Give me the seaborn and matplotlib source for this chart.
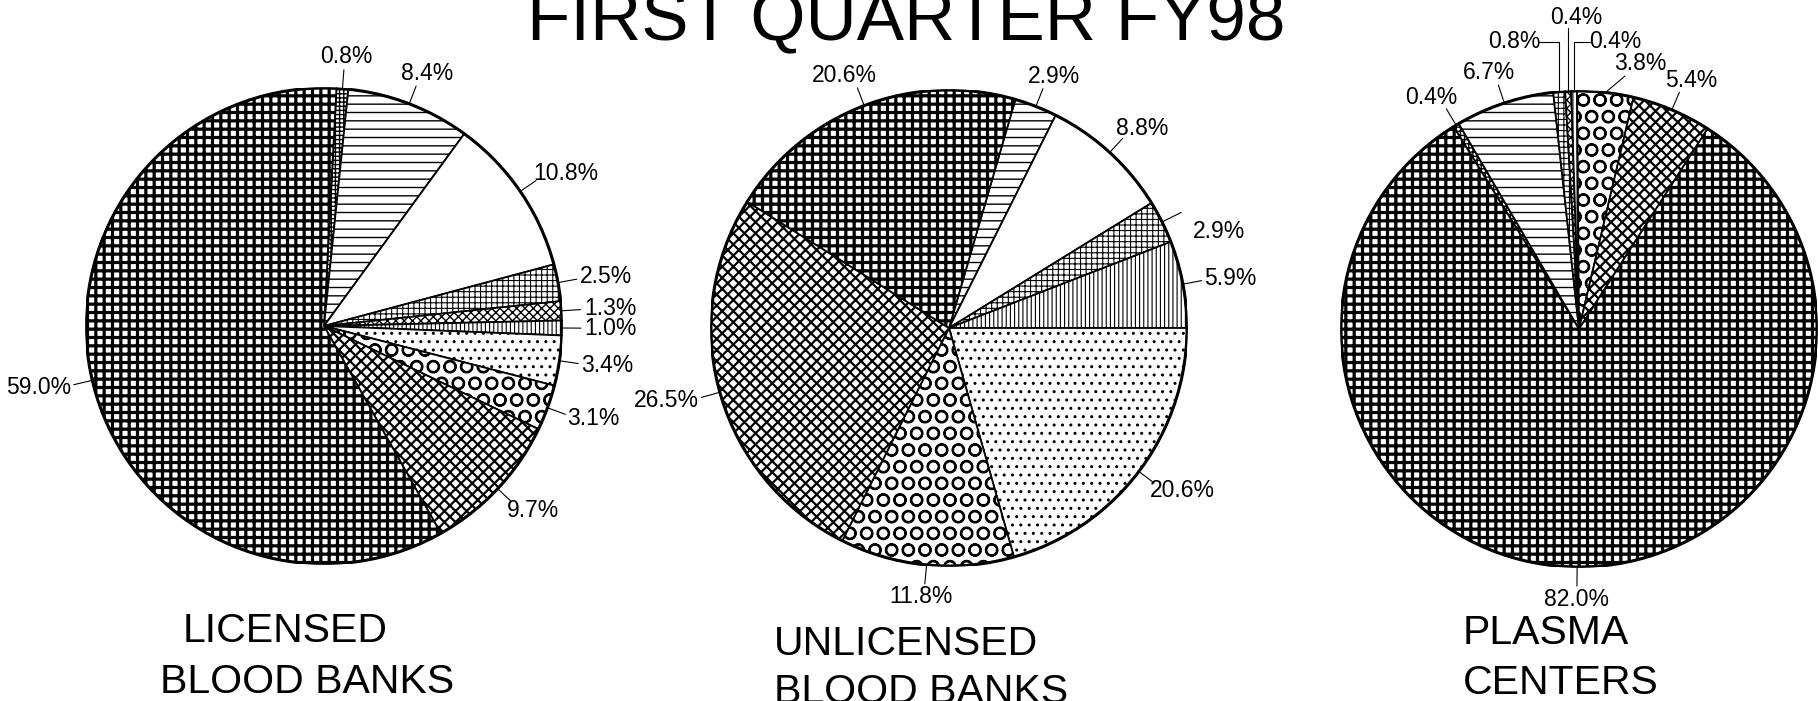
import numpy as np
import seaborn as sns
import matplotlib.pyplot as plt
from matplotlib.patches import Circle

# data
categories = ["dotted squares", "horizontal", "white", "grid", "checker",
              "vertical", "dots", "circles", "waves", "triangles"]
licensed = [0.8, 8.4, 10.8, 2.5, 1.3, 1.0, 3.4, 3.1, 9.7, 59.0]
unlicensed = [0.0, 2.9, 8.8, 2.9, 0.0, 5.9, 20.6, 11.8, 26.5, 20.6]
plasma = [0.4, 6.7, 0.0, 0.8, 0.4, 0.4, 0.0, 3.8, 5.4, 82.0]
pie_names = [["LICENSED", "BLOOD BANKS"],
             ["UNLICENSED", "BLOOD BANKS"],
             ["PLASMA", "CENTERS"]]
chart_title = "FIRST QUARTER FY98"

# style / layout
W, H = 1818, 701
R = 238
# hatch pattern and hatch line width per category
hatches = {"dotted squares": ("++++", 1.0), "horizontal": ("--", 1.0),
           "white": ("", 1.0), "grid": ("+++", 0.8),
           "checker": ("xxxx", 1.0), "vertical": ("||||", 0.8),
           "dots": ("..", 1.0), "circles": ("O", 1.5),
           "waves": ("xxx", 1.6), "triangles": ("++", 2.3)}
centers = [(324, 326), (949, 328), (1579, 329)]
start_cw = [3.0, 16.2, 328.2]          # clockwise degrees from 12 o'clock
name_pos = [[(183, 642), (160, 693)],
            [(774, 655), (774, 703)],
            [(1463, 644), (1463, 694)]]
# hand placed labels: (pie, category) -> text centre px, leader points px
label_fix = {
    (1, "grid"): ((1219, 232), []),
    (2, "grid"): ((1514, 42), [("v", 42), (1539, 42)]),
    (2, "checker"): ((1576, 17), [("v", 28)]),
    (2, "vertical"): ((1615, 42), [("v", 42), (1590, 42)]),
    (2, "circles"): ((1640, 63), [(1625, 76)]),
}

sns.set_theme(style="white")
plt.rcParams["font.family"] = ["Liberation Sans", "DejaVu Sans"]
plt.rcParams["text.color"] = "black"
plt.rcParams["hatch.color"] = "black"

fig = plt.figure(figsize=(W / 100, H / 100), dpi=100, facecolor="white")


def draw_pie(i, values):
    cx, cy = centers[i]
    ax = fig.add_axes([(cx - R) / W, 1 - (cy + R) / H, 2 * R / W, 2 * R / H])
    cats = [c for c, v in zip(categories, values) if v > 0]
    vals = [v for v in values if v > 0]
    wedges, _ = ax.pie(vals, startangle=90 - start_cw[i], counterclock=False,
                       colors=["white"] * len(vals), radius=1,
                       wedgeprops=dict(edgecolor="black", linewidth=1.3))
    for w, c in zip(wedges, cats):
        pat, lw = hatches[c]
        w.set_hatch(pat)
        if hasattr(w, "set_hatch_linewidth"):
            w.set_hatch_linewidth(lw)
    ax.add_patch(Circle((0, 0), 1, fill=False, lw=2.2, ec="black", zorder=5))
    ax.set_xlim(-1, 1)
    ax.set_ylim(-1, 1)
    ax.axis("off")

    def to_data(px, py):
        return (px - cx) / R, (cy - py) / R

    for w, c, v in zip(wedges, cats, vals):
        lab = f"{v:.1f}%"
        th = np.deg2rad((w.theta1 + w.theta2) / 2)
        dx, dy = np.cos(th), np.sin(th)
        if (i, c) in label_fix:
            (tx, ty), pts = label_fix[(i, c)]
            xs, ys = [dx], [dy]
            for p in pts:
                if p[0] == "v":
                    xs.append(dx)
                    ys.append(to_data(0, p[1])[1])
                else:
                    px, py = to_data(*p)
                    xs.append(px)
                    ys.append(py)
            if not pts:
                xs.append(dx * 1.09)
                ys.append(dy * 1.09)
            ax.plot(xs, ys, color="black", lw=0.8, clip_on=False)
            ax.text(*to_data(tx, ty), lab, ha="center", va="center",
                    fontsize=16.5, clip_on=False)
            continue
        ax.plot([dx, dx * 1.08], [dy, dy * 1.08], color="black", lw=0.8,
                clip_on=False)
        tw = 12.8 * len(lab)
        x = dx * 1.08 + dx * (tw / 2 + 4) / R
        y = dy * 1.08 + dy * (9 + 4) / R
        ax.text(x, y, lab, ha="center", va="center", fontsize=16.5,
                clip_on=False)

    for line, (px, py) in zip(pie_names[i], name_pos[i]):
        fig.text(px / W, 1 - py / H, line, ha="left", va="baseline",
                 fontsize=29.5)


for i, vals in enumerate([licensed, unlicensed, plasma]):
    draw_pie(i, vals)

fig.text(906 / W, 1 - 40 / H, chart_title, ha="center", va="baseline",
         fontsize=51)

fig.savefig("out.png", dpi=100, facecolor="white")
